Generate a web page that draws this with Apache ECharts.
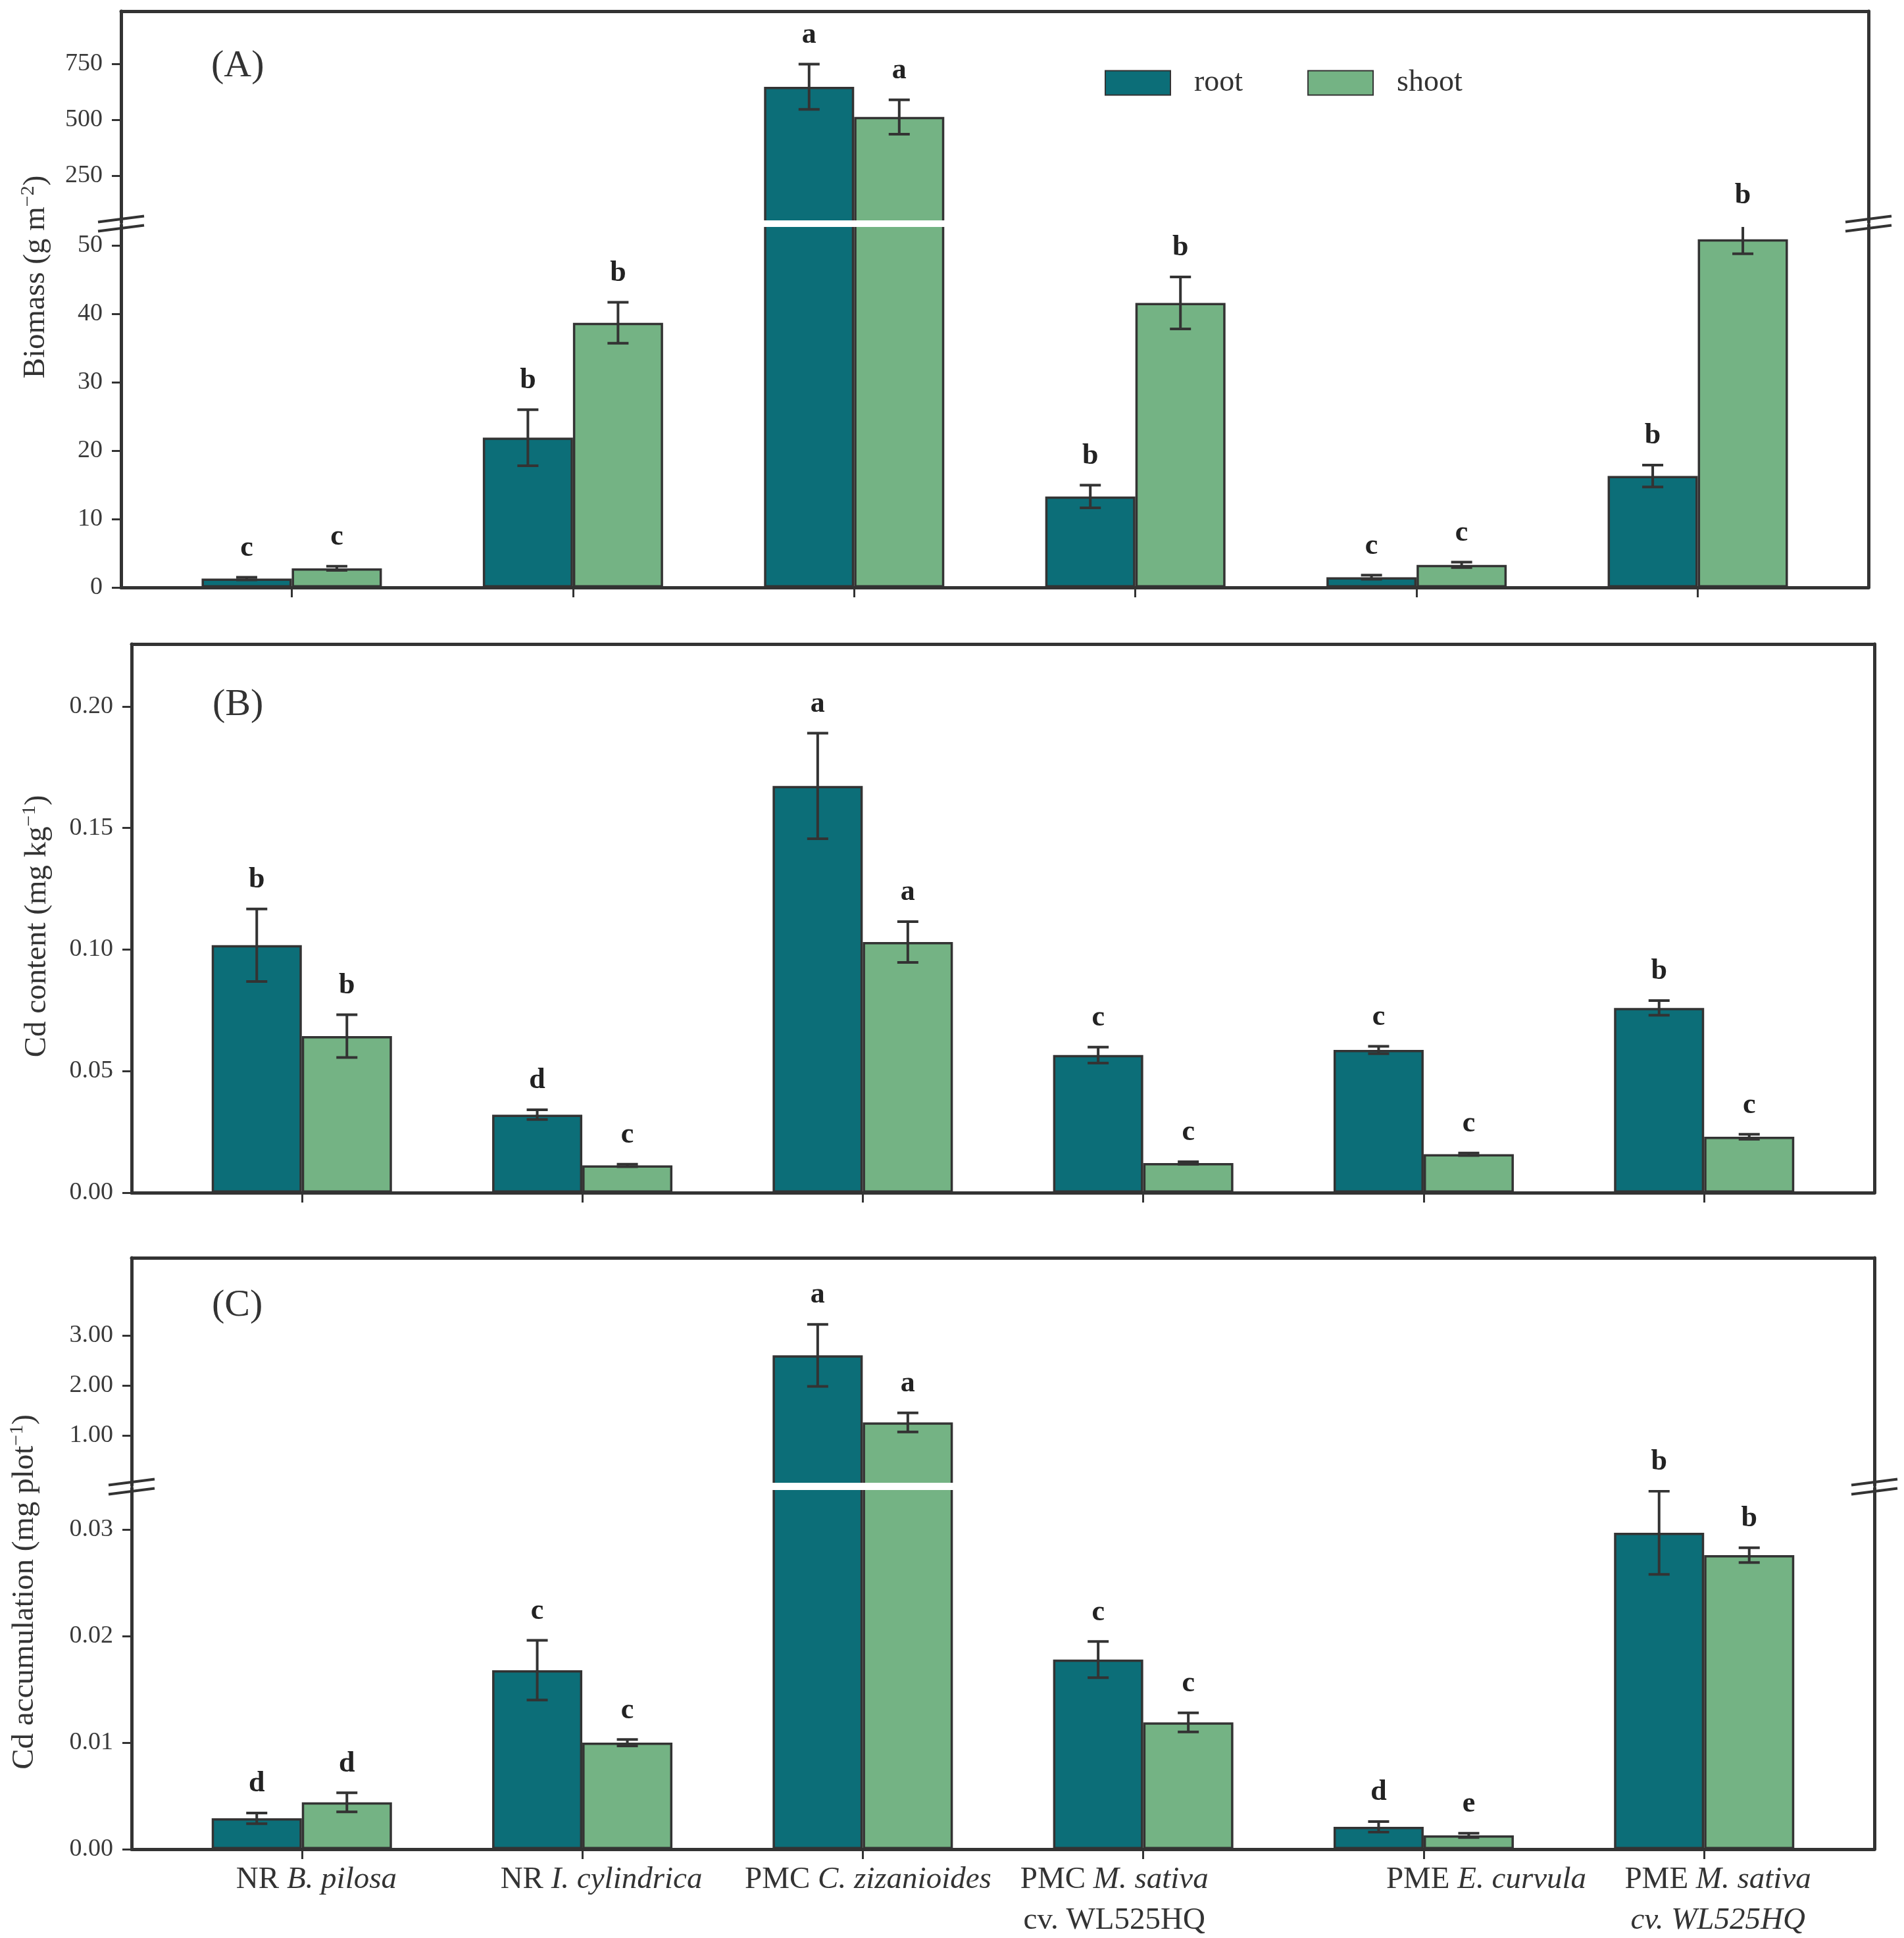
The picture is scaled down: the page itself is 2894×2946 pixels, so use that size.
<!DOCTYPE html>
<html>
<head>
<meta charset="utf-8">
<title>Biomass and Cd</title>
<script src="https://cdn.jsdelivr.net/npm/echarts@6/dist/echarts.min.js"></script>
<style>
html, body { margin: 0; padding: 0; background: #fff; }
#chart { width: 2894px; height: 2946px; }
</style>
</head>
<body>
<div id="chart"></div>
<script>
// categories
var groupNames = ['NR', 'NR', 'PMC', 'PMC', 'PME', 'PME'];
var speciesNames = ['B. pilosa', 'I. cylindrica', 'C. zizanioides', 'M. sativa', 'E. curvula', 'M. sativa'];
var cultivarNames = ['', '', '', 'cv. WL525HQ', '', 'cv. WL525HQ'];
var cultivarItalic = [false, false, false, false, false, true];

// (A) biomass, g m-2
var biomassRoot = [1.3, 21.9, 647, 13.3, 1.5, 16.3];
var biomassRootSe = [0.2, 4.1, 101, 1.65, 0.3, 1.6];
var biomassShoot = [2.8, 38.7, 512, 41.6, 3.3, 50.9];
var biomassShootSe = [0.3, 3.0, 77, 3.8, 0.4, 2.1];
var biomassRootSig = ['c', 'b', 'a', 'b', 'c', 'b'];
var biomassShootSig = ['c', 'b', 'a', 'b', 'c', 'b'];

// (B) Cd content, mg kg-1
var cdRoot = [0.1018, 0.0321, 0.1673, 0.0566, 0.0587, 0.0760];
var cdRootSe = [0.0149, 0.0020, 0.0217, 0.0033, 0.0015, 0.0030];
var cdShoot = [0.0644, 0.0112, 0.1031, 0.0122, 0.0158, 0.0230];
var cdShootSe = [0.0088, 0.0005, 0.0084, 0.0005, 0.0005, 0.0010];
var cdRootSig = ['b', 'd', 'a', 'c', 'c', 'b'];
var cdShootSig = ['b', 'c', 'a', 'c', 'c', 'c'];

// (C) Cd accumulation, mg plot-1
var accRoot = [0.0029, 0.0168, 2.60, 0.0178, 0.0021, 0.0297];
var accRootSe = [0.0005, 0.0028, 0.62, 0.0017, 0.0005, 0.0039];
var accShoot = [0.0044, 0.0100, 1.26, 0.0119, 0.0013, 0.0276];
var accShootSe = [0.0009, 0.0003, 0.19, 0.0009, 0.0002, 0.0007];
var accRootSig = ['d', 'c', 'a', 'c', 'd', 'b'];
var accShootSig = ['d', 'c', 'a', 'c', 'e', 'b'];

// tick labels
var biomassTicksHigh = [250, 500, 750];
var biomassTicksLow = [0, 10, 20, 30, 40, 50];
var cdTicks = [0, 0.05, 0.10, 0.15, 0.20];
var accTicksHigh = [1, 2, 3];
var accTicksLow = [0, 0.01, 0.02, 0.03];

// ---- layout / style ----
var FONT = '"Liberation Serif", "Times New Roman", serif';
var INK = '#333333';
var ROOT_COLOR = '#0c6e78';
var SHOOT_COLOR = '#74b384';
var BAR_W = 137;
var X_MIN = -0.607, X_MAX = 5.607;
var labelShift = [0.052, 0.068, 0.019, -0.103, 0.223, 0.049];
var catIdx = groupNames.map(function (g, i) { return i; });

var A_LO_MAX = 53.0, C_LO_MAX = 0.0339;

var chart = echarts.init(document.getElementById('chart'), null, { renderer: 'canvas' });

function yAxisPair(grid, min, max, ticks, fmt) {
  var left = {
    type: 'value', gridIndex: grid, min: min, max: max, position: 'left',
    splitLine: { show: false },
    axisLine: { show: true, onZero: false, lineStyle: { color: INK, width: 5 } },
    axisTick: { show: true, length: 14, customValues: ticks, lineStyle: { color: INK, width: 3 } },
    axisLabel: { show: true, customValues: ticks, formatter: fmt, margin: 28,
      color: '#3a3a3a', fontSize: 38, fontFamily: FONT }
  };
  var right = {
    type: 'value', gridIndex: grid, min: min, max: max, position: 'right',
    splitLine: { show: false },
    axisLine: { show: true, onZero: false, lineStyle: { color: INK, width: 5 } },
    axisTick: { show: false }, axisLabel: { show: false }
  };
  return [left, right];
}

function xAxisTop(grid) {
  return {
    type: 'value', gridIndex: grid, min: X_MIN, max: X_MAX, position: 'top',
    splitLine: { show: false },
    axisLine: { show: true, onZero: false, lineStyle: { color: INK, width: 5 } },
    axisTick: { show: false }, axisLabel: { show: false }
  };
}

function catLabel(v) {
  var i = Math.round(v);
  var s = '{n|' + groupNames[i] + '} {i|' + speciesNames[i] + '}';
  if (cultivarNames[i]) s += '\n{' + (cultivarItalic[i] ? 'i' : 'n') + '|' + cultivarNames[i] + '}';
  return s;
}

function xAxisBottom(grid, withLabels) {
  return {
    type: 'value', gridIndex: grid, min: X_MIN, max: X_MAX, position: 'bottom',
    splitLine: { show: false },
    axisLine: { show: true, onZero: false, lineStyle: { color: INK, width: 5 } },
    axisTick: { show: true, length: 15, customValues: catIdx, lineStyle: { color: INK, width: 3 } },
    axisLabel: {
      show: withLabels,
      customValues: catIdx.map(function (i) { return i + labelShift[i]; }),
      formatter: catLabel, margin: 16, lineHeight: 62,
      fontSize: 47, fontFamily: FONT, color: INK,
      rich: {
        n: { fontSize: 47, fontFamily: FONT, color: INK, lineHeight: 62 },
        i: { fontSize: 47, fontFamily: FONT, color: INK, lineHeight: 62, fontStyle: 'italic' }
      }
    }
  };
}

function barSeries(name, color, vals, xi, yi, keep) {
  return {
    type: 'bar', name: name, xAxisIndex: xi, yAxisIndex: yi,
    barWidth: BAR_W, barGap: '0%', clip: true, silent: true, z: 2,
    itemStyle: { color: color, borderColor: INK, borderWidth: 3.5 },
    data: vals.map(function (v, i) { return keep(v) ? [i, v] : [i, '-']; })
  };
}

function errSeries(xi, yi, sets, keep) {
  var items = [], sig = [];
  sets.forEach(function (s) {
    s.vals.forEach(function (v, i) {
      if (keep(v)) { items.push([i, v, s.se[i], s.side]); sig.push(s.sig[i]); }
    });
  });
  return {
    type: 'custom', xAxisIndex: xi, yAxisIndex: yi, silent: true, z: 5,
    encode: { x: 0, y: 1 },
    data: items,
    renderItem: function (params, api) {
      var i = api.value(0), v = api.value(1), e = api.value(2), side = api.value(3);
      var cx = api.coord([i, v])[0] + side * BAR_W / 2;
      var top = api.coord([i, v + e])[1];
      var bot = api.coord([i, v - e])[1];
      var ls = { stroke: INK, lineWidth: 4 };
      return {
        type: 'group',
        children: [
          { type: 'line', shape: { x1: cx, y1: top, x2: cx, y2: bot }, style: ls },
          { type: 'line', shape: { x1: cx - 16, y1: top, x2: cx + 16, y2: top }, style: ls },
          { type: 'line', shape: { x1: cx - 16, y1: bot, x2: cx + 16, y2: bot }, style: ls },
          { type: 'text', x: cx, y: top - 22,
            style: { text: sig[params.dataIndex], fontSize: 44, fontWeight: 'bold', fontFamily: FONT,
                     fill: '#222', align: 'center', verticalAlign: 'bottom' } }
        ]
      };
    }
  };
}

// barKeep: which bars go into this grid; errKeep: which error bars / letters
function panelSeries(xi, yi, root, rootSe, rootSig, shoot, shootSe, shootSig, barKeep, errKeep) {
  return [
    barSeries('root', ROOT_COLOR, root, xi, yi, barKeep),
    barSeries('shoot', SHOOT_COLOR, shoot, xi, yi, barKeep),
    errSeries(xi, yi, [
      { vals: root, se: rootSe, sig: rootSig, side: -1 },
      { vals: shoot, se: shootSe, sig: shootSig, side: 1 }
    ], errKeep)
  ];
}

function breakMarks(x, y) {
  return [-7, 7].map(function (d) {
    return { type: 'line', z: 101, silent: true,
      shape: { x1: x - 35, y1: y + d + 4.5, x2: x + 35, y2: y + d - 4.5 },
      style: { stroke: INK, lineWidth: 4 } };
  });
}

function titleText(x, y, main, sup) {
  return {
    type: 'text', x: x, y: y, rotation: Math.PI / 2, z: 100, silent: true,
    style: {
      text: '{t|' + main + '}{s|' + sup + '}{t|)}',
      align: 'center', verticalAlign: 'middle',
      rich: {
        t: { fontSize: 47, fontFamily: FONT, fill: INK, lineHeight: 54 },
        s: { fontSize: 30, fontFamily: FONT, fill: INK, verticalAlign: 'top' }
      }
    }
  };
}

function panelTag(x, y, txt) {
  return { type: 'text', x: x, y: y, z: 100, silent: true,
    style: { text: txt, fontSize: 58, fontFamily: FONT, fill: INK, verticalAlign: 'middle' } };
}

var fmtInt = function (v) { return String(Math.round(v)); };
var fmt2 = function (v) { return v.toFixed(2); };
var all = function () { return true; };
var aHigh = function (v) { return v > A_LO_MAX; };
var aLow = function (v) { return v <= A_LO_MAX; };
var cHigh = function (v) { return v > C_LO_MAX; };
var cLow = function (v) { return v <= C_LO_MAX; };

var gridsA = { left: 184, right: 54 };
var gridsBC = { left: 200, right: 45 };

var yA = yAxisPair(0, 41, 985, biomassTicksHigh, fmtInt)
  .concat(yAxisPair(1, 0, A_LO_MAX, biomassTicksLow, fmtInt));
var yB = yAxisPair(2, 0, 0.2257, cdTicks, fmt2);
var yC = yAxisPair(3, 0, 4.55, accTicksHigh, fmt2)
  .concat(yAxisPair(4, 0, C_LO_MAX, accTicksLow, fmt2));

var option = {
  animation: false,
  backgroundColor: '#ffffff',
  textStyle: { fontFamily: FONT },
  legend: {
    data: ['root', 'shoot'], left: 1679, top: 103, icon: 'rect',
    itemWidth: 99, itemHeight: 37, itemGap: 98, padding: 0, selectedMode: false,
    textStyle: { fontSize: 46, fontFamily: FONT, color: INK, padding: [0, 0, 0, 31] }
  },
  grid: [
    { left: gridsA.left, right: gridsA.right, top: 17, height: 321, outerBoundsMode: 'none' },
    { left: gridsA.left, right: gridsA.right, top: 342, height: 551, outerBoundsMode: 'none' },
    { left: gridsBC.left, right: gridsBC.right, top: 979, height: 834, outerBoundsMode: 'none' },
    { left: gridsBC.left, right: gridsBC.right, top: 1912, height: 346, outerBoundsMode: 'none' },
    { left: gridsBC.left, right: gridsBC.right, top: 2262, height: 549, outerBoundsMode: 'none' }
  ],
  xAxis: [
    xAxisTop(0),            // 0
    xAxisBottom(1, false),  // 1
    xAxisBottom(2, false),  // 2
    xAxisTop(2),            // 3
    xAxisTop(3),            // 4
    xAxisBottom(4, true)    // 5
  ],
  yAxis: yA.concat(yB).concat(yC),
  series: [].concat(
    panelSeries(0, 0, biomassRoot, biomassRootSe, biomassRootSig, biomassShoot, biomassShootSe, biomassShootSig, aHigh, aHigh),
    panelSeries(1, 2, biomassRoot, biomassRootSe, biomassRootSig, biomassShoot, biomassShootSe, biomassShootSig, all, aLow),
    panelSeries(2, 4, cdRoot, cdRootSe, cdRootSig, cdShoot, cdShootSe, cdShootSig, all, all),
    panelSeries(4, 6, accRoot, accRootSe, accRootSig, accShoot, accShootSe, accShootSig, cHigh, cHigh),
    panelSeries(5, 8, accRoot, accRootSe, accRootSig, accShoot, accShootSe, accShootSig, all, cLow)
  ),
  graphic: [
    // white breaks across the bars
    { type: 'rect', z: 100, silent: true, shape: { x: 187, y: 335, width: 2650, height: 10 }, style: { fill: '#ffffff' } },
    { type: 'rect', z: 100, silent: true, shape: { x: 203, y: 2254, width: 2643, height: 11 }, style: { fill: '#ffffff' } },
    titleText(55, 421, 'Biomass (g m', '\u22122'),
    titleText(57, 1408, 'Cd content (mg kg', '\u22121'),
    titleText(38, 2420, 'Cd accumulation (mg plot', '\u22121'),
    panelTag(321, 101, '(A)'),
    panelTag(323, 1072, '(B)'),
    panelTag(322, 1985, '(C)')
  ].concat(breakMarks(184, 340), breakMarks(2840, 340), breakMarks(200, 2260), breakMarks(2849, 2260))
};

chart.setOption(option);
window.onresize = function () { chart.resize(); };
</script>
</body>
</html>
